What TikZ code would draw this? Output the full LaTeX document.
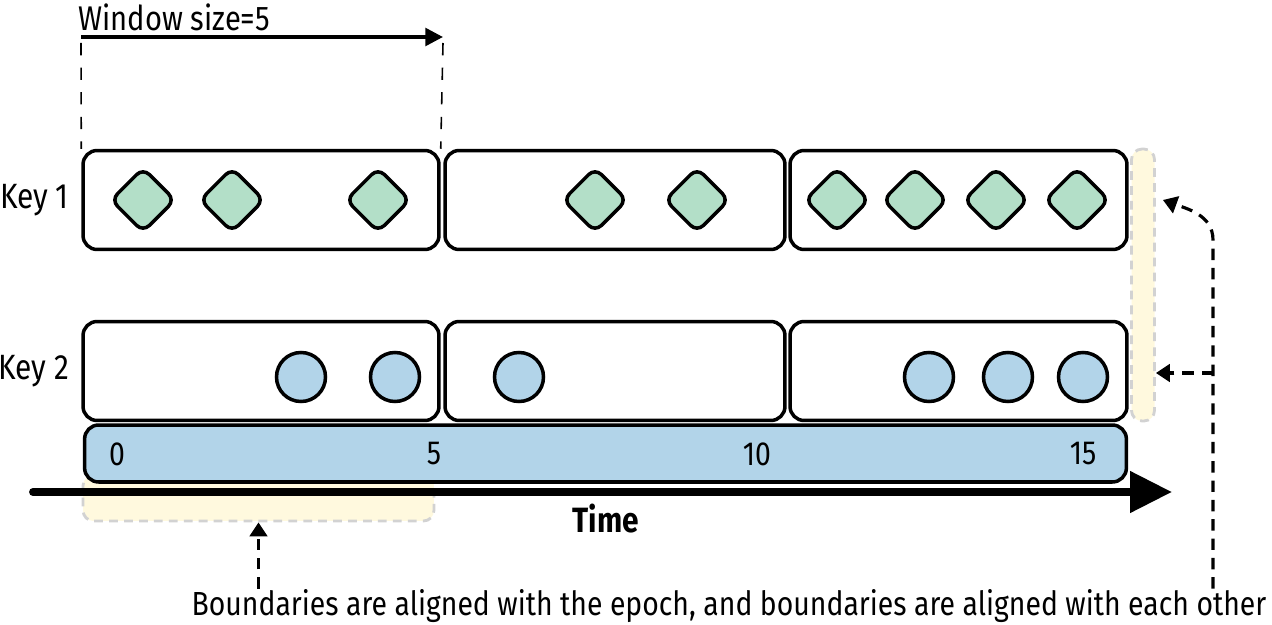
\documentclass[tikz,border=0pt]{standalone}
\usepackage{fontspec}
\setmainfont{Fira Sans}[FakeStretch=0.85]
\usepackage{xcolor}
\usetikzlibrary{shapes.geometric,arrows.meta,positioning}
\definecolor{kgreen}{RGB}{179,223,200}
\definecolor{kblue}{RGB}{178,212,233}
\definecolor{kyellow}{RGB}{255,249,222}
\definecolor{kgrey}{RGB}{210,210,210}

\begin{document}
\begin{tikzpicture}[x=0.02cm, y=-0.02cm,
  win/.style={rectangle, rounded corners=8pt, draw=black, line width=2pt, fill=white,
              minimum height=1.98cm, inner sep=0pt},
  dia/.style={diamond, aspect=1, rounded corners=5pt, draw=black, line width=2pt, fill=kgreen,
              minimum width=1.3cm, minimum height=1.3cm, inner sep=0pt},
  dot/.style={circle, draw=black, line width=2pt, fill=kblue, minimum size=0.98cm, inner sep=0pt},
  axis/.style={rectangle, rounded corners=8pt, draw=black, line width=2pt, fill=kblue,
              minimum width=20.84cm, minimum height=1.14cm, inner sep=0pt},
  hl/.style={rectangle, rounded corners=6pt, draw=kgrey, dash pattern=on 5pt off 3.5pt,
              line width=1.6pt, fill=kyellow, inner sep=0pt},
  lbl/.style={font=\fontsize{19}{22}\selectfont, inner sep=0pt},
  guide/.style={dash pattern=on 7pt off 7pt, line width=0.9pt},
  ptr/.style={dash pattern=on 6.5pt off 4.5pt, line width=1.8pt, -{Triangle[length=8pt, width=10pt]}}]
\useasboundingbox (0,0) rectangle (1272,625);
\node[hl, minimum width=7.02cm, minimum height=0.92cm] (hlB) at (258.5,498) {};
\node[hl, minimum width=0.46cm, minimum height=5.44cm] (hlR) at (1143,285) {};
\node[win, minimum width=7.12cm] (k1a) at (261,200) {};
\node[win, minimum width=6.8cm] (k1b) at (615,200) {};
\node[win, minimum width=6.74cm] (k1c) at (958.5,200) {};
\node[win, minimum width=7.12cm] (k2a) at (261,371) {};
\node[win, minimum width=6.8cm] (k2b) at (615,371) {};
\node[win, minimum width=6.74cm] (k2c) at (958.5,371) {};
\node[axis] (bar) at (605.5,453.5) {};
\node[lbl, font=\fontsize{20}{24}\selectfont, left=0.24cm of k1a] (key1) {Key 1};
\node[lbl, font=\fontsize{20}{24}\selectfont, left=0.24cm of k2a] (key2) {Key 2};
\node[dia] (d1) at (143,200) {};
\node[dia] (d2) at (232,200) {};
\node[dia] (d3) at (378,200) {};
\node[dia] (d4) at (595,200) {};
\node[dia] (d5) at (697,200) {};
\node[dia] (d6) at (837,200) {};
\node[dia] (d7) at (915,200) {};
\node[dia] (d8) at (996,200) {};
\node[dia] (d9) at (1077,200) {};
\node[dot] (c1) at (301,377) {};
\node[dot] (c2) at (395,377) {};
\node[dot] (c3) at (519,377) {};
\node[dot] (c4) at (929,377) {};
\node[dot] (c5) at (1008,377) {};
\node[dot] (c6) at (1083,377) {};
\node[lbl] (n0) at (117,454) {0};
\node[lbl] (n5) at (434,454) {5};
\node[lbl] (n10) at (757,454) {10};
\node[lbl] (n15) at (1083,454) {15};
\node[lbl, font=\fontsize{20}{24}\selectfont\bfseries] (time) at (606,519) {Time};
\node[lbl, font=\fontsize{19.5}{23}\selectfont, anchor=base west] (wtxt) at (78,31) {Window size=5};
\node[lbl, anchor=base] (note) at (729,615)
  {Boundaries are aligned with the epoch, and boundaries are aligned with each other};
\coordinate (w0) at (81,37);
\coordinate (w5) at (443,37);
\coordinate (t0) at (33,492);
\coordinate (t1) at (1172,492);
\coordinate (rj) at (1213,373);
\coordinate (rk) at (1213,240);
\draw[line width=2pt, -{Triangle[length=10pt, width=10pt]}] (w0) -- (w5);
\draw[guide] ([yshift=-0.12cm]w0) -- (k1a.north west);
\draw[guide] ([yshift=-0.12cm]w5) -- (k1a.north east);
\draw[line width=4.5pt, line cap=round, -{Triangle[length=0.84cm, width=0.8cm]}] (t0) -- (t1);
\draw[ptr] (note.north -| hlB.south) -- (hlB.south);
\draw[ptr] (note.north -| rj) -- (rk) to[out=90, in=-20] ([xshift=0.14cm]hlR.east |- k1c.east);
\draw[ptr] (rj) -- (hlR.east |- rj);
\end{tikzpicture}
\end{document}
